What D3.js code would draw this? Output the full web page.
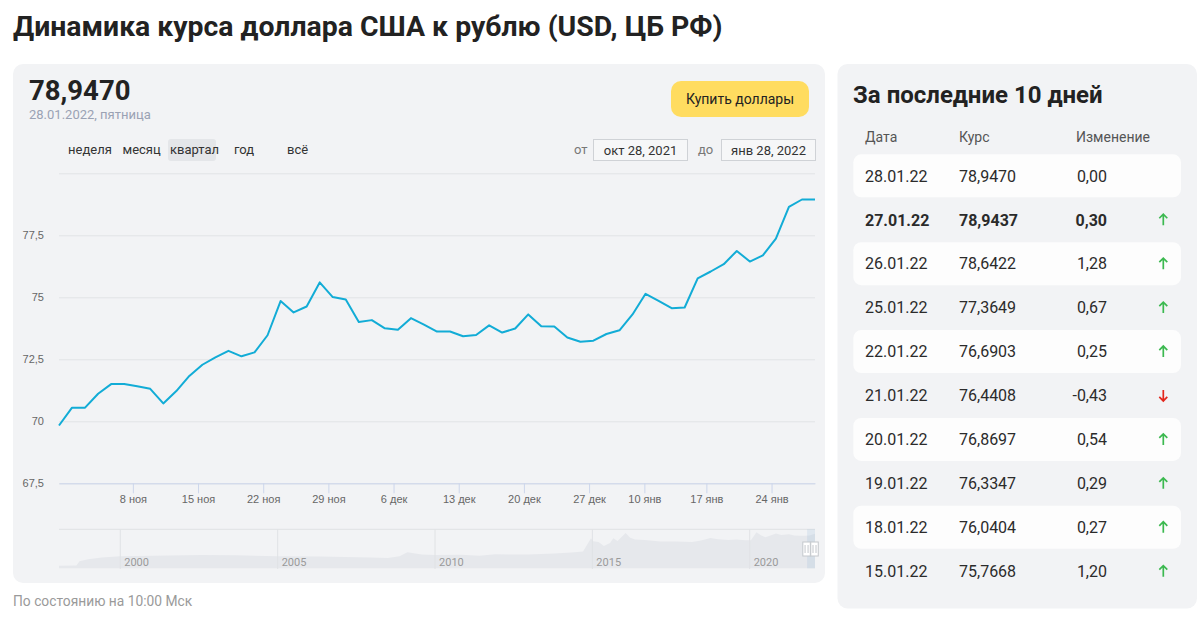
<!DOCTYPE html>
<html>
<head>
<meta charset="utf-8">
<script src="https://cdn.jsdelivr.net/npm/d3@7"></script>
<style>
  body { margin: 0; background: #fff; }
  svg { display: block; font-family: Roboto, "Noto Sans", sans-serif; }
</style>
</head>
<body>
<script>
// main series: CBR USD/RUB, last quarter
let dates = ['2021-10-28', '2021-10-29', '2021-10-30', '2021-11-02', '2021-11-03', '2021-11-06',
  '2021-11-09', '2021-11-10', '2021-11-11', '2021-11-12', '2021-11-13',
  '2021-11-16', '2021-11-17', '2021-11-18', '2021-11-19', '2021-11-20',
  '2021-11-23', '2021-11-24', '2021-11-25', '2021-11-26', '2021-11-27',
  '2021-11-30', '2021-12-01', '2021-12-02', '2021-12-03', '2021-12-04',
  '2021-12-07', '2021-12-08', '2021-12-09', '2021-12-10', '2021-12-11',
  '2021-12-14', '2021-12-15', '2021-12-16', '2021-12-17', '2021-12-18',
  '2021-12-21', '2021-12-22', '2021-12-23', '2021-12-24', '2021-12-25',
  '2021-12-28', '2021-12-29', '2021-12-30', '2021-12-31',
  '2022-01-11', '2022-01-12', '2022-01-13', '2022-01-14', '2022-01-15',
  '2022-01-18', '2022-01-19', '2022-01-20', '2022-01-21', '2022-01-22',
  '2022-01-25', '2022-01-26', '2022-01-27', '2022-01-28']
let rates = [69.83, 70.55, 70.55, 71.11, 71.50, 71.50,
  71.41, 71.31, 70.72, 71.22, 71.83,
  72.28, 72.58, 72.84, 72.62, 72.78,
  73.47, 74.85, 74.39, 74.63, 75.60,
  75.01, 74.91, 74.00, 74.08, 73.75,
  73.69, 74.16, 73.90, 73.62, 73.62,
  73.43, 73.48, 73.87, 73.58, 73.74,
  74.31, 73.83, 73.82, 73.38, 73.21,
  73.25, 73.52, 73.67, 74.31,
  75.14, 74.86, 74.56, 74.59, 75.7668,
  76.0404, 76.3347, 76.8697, 76.4408, 76.6903,
  77.3649, 78.6422, 78.9437, 78.9470]

let yTicks = [67.5, 70, 72.5, 75, 77.5, 80]
let yTickLabels = ['67,5', '70', '72,5', '75', '77,5', '']
let xTickDates = ['2021-11-08', '2021-11-15', '2021-11-22', '2021-11-29', '2021-12-06', '2021-12-13',
  '2021-12-20', '2021-12-27', '2022-01-10', '2022-01-17', '2022-01-24']
let xTickLabels = ['8 ноя', '15 ноя', '22 ноя', '29 ноя', '6 дек', '13 дек',
  '20 дек', '27 дек', '10 янв', '17 янв', '24 янв']

// navigator: whole history
let navDates = ['1998-01-20', '1998-08-10', '1998-09-15', '1998-12-25', '1999-06-01', '2000-01-01',
  '2001-01-15', '2002-08-01', '2003-09-01', '2005-01-01', '2006-05-01', '2007-12-15',
  '2008-07-01', '2008-11-15', '2009-02-15', '2009-08-01', '2010-01-01', '2010-11-01',
  '2011-06-01', '2011-12-01', '2012-12-15', '2013-10-15', '2014-05-01', '2014-09-15',
  '2014-12-16', '2015-01-10', '2015-03-15', '2015-05-15', '2015-07-25', '2015-09-01',
  '2015-10-20', '2016-01-22', '2016-03-15', '2016-05-10', '2016-09-01', '2017-03-01',
  '2017-09-01', '2018-03-01', '2018-06-01', '2018-08-01', '2018-10-01', '2019-01-01',
  '2019-04-28', '2019-08-01', '2019-11-10', '2020-01-15', '2020-03-20', '2020-05-15',
  '2020-07-01', '2020-09-15', '2020-11-01', '2021-01-01', '2021-04-01', '2021-06-01',
  '2021-08-01', '2021-10-01', '2021-11-25', '2022-01-28']
let navValues = [5.9, 6.3, 16, 20.6, 24.5, 27.5,
  28.9, 30.6, 29.5, 27.6, 26.8, 24.4,
  23.3, 27.5, 36.5, 31.5, 30.2, 30.8,
  28.5, 31.8, 31.5, 33.8, 36, 38.5,
  68.5, 62, 60, 51, 58, 68.5,
  62.5, 80.5, 70, 66, 64.5, 61,
  61, 60, 63, 66, 69, 66.5,
  64.5, 65.5, 64, 64, 82, 75,
  71, 76, 79.5, 76, 77.5, 75,
  74.5, 74, 75, 78.9]
let navYears = [2000, 2005, 2010, 2015, 2020]

// table: last 10 days
let tableDates = ['28.01.22', '27.01.22', '26.01.22', '25.01.22', '22.01.22',
  '21.01.22', '20.01.22', '19.01.22', '18.01.22', '15.01.22']
let tableRates = ['78,9470', '78,9437', '78,6422', '77,3649', '76,6903',
  '76,4408', '76,8697', '76,3347', '76,0404', '75,7668']
let tableChanges = [0.00, 0.30, 1.28, 0.67, 0.25, -0.43, 0.54, 0.29, 0.27, 1.20]

let periods = ['неделя', 'месяц', 'квартал', 'год', 'всё']
let periodX = [68, 122.5, 170, 234, 287]

const parse = d3.timeParse('%Y-%m-%d')
const comma = v => v.toFixed(2).replace('.', ',')

const svg = d3.select('body').append('svg').attr('width', 1203).attr('height', 621)

svg.append('text').attr('x', 13).attr('y', 36)
  .attr('font-size', 28.4).attr('font-weight', 700).attr('fill', '#222')
  .text('Динамика курса доллара США к рублю (USD, ЦБ РФ)')

// left panel
svg.append('rect').attr('x', 13).attr('y', 64).attr('width', 812).attr('height', 519)
  .attr('rx', 10).attr('fill', '#f2f3f5')

svg.append('text').attr('x', 29).attr('y', 99.5)
  .attr('font-size', 27.5).attr('font-weight', 700).attr('fill', '#222')
  .text(tableRates[0])
svg.append('text').attr('x', 29).attr('y', 119)
  .attr('font-size', 13).attr('fill', '#9aa2b4')
  .text('28.01.2022, пятница')

svg.append('rect').attr('x', 671).attr('y', 81).attr('width', 138).attr('height', 36)
  .attr('rx', 10).attr('fill', '#ffdc60')
svg.append('text').attr('x', 740).attr('y', 104).attr('text-anchor', 'middle')
  .attr('font-size', 14).attr('fill', '#222').text('Купить доллары')

svg.append('rect').attr('x', 168).attr('y', 139).attr('width', 48).attr('height', 22)
  .attr('rx', 3).attr('fill', '#e4e6e9')
svg.selectAll('.period').data(periods).enter().append('text')
  .attr('class', 'period')
  .attr('x', function (d, i) { return periodX[i] })
  .attr('y', 154)
  .attr('font-size', 13).attr('fill', '#333')
  .text(function (d) { return d })

let rangeBoxes = [{l: 'от', lx: 574, bx: 593.5, t: 'окт 28, 2021'}, {l: 'до', lx: 698, bx: 721.5, t: 'янв 28, 2022'}]
rangeBoxes.forEach(function (b) {
  svg.append('text').attr('x', b.lx).attr('y', 154).attr('font-size', 13).attr('fill', '#777').text(b.l)
  svg.append('rect').attr('x', b.bx).attr('y', 139.5).attr('width', 94).attr('height', 21)
    .attr('fill', '#f6f7f8').attr('stroke', '#cfd2d6')
  svg.append('text').attr('x', b.bx + 47).attr('y', 154.5).attr('text-anchor', 'middle')
    .attr('font-size', 13).attr('fill', '#333').text(b.t)
})

// main chart
const times = dates.map(parse)
const x = d3.scaleLinear().domain([0, dates.length - 1]).range([59, 815])
const y = d3.scaleLinear().domain([67.5, 80]).range([483.3, 173.3])

function dateIndex (t) {
  let i = Math.min(d3.bisectRight(times, t) - 1, times.length - 2)
  return i + (t - times[i]) / (times[i + 1] - times[i])
}

const gy = svg.append('g').attr('transform', 'translate(59,0)')
  .call(d3.axisLeft(y).tickValues(yTicks).tickSize(-756).tickPadding(15)
    .tickFormat(function (d, i) { return yTickLabels[i] }))
gy.select('.domain').remove()
gy.selectAll('line').attr('stroke', '#e1e3e6')
gy.selectAll('text').attr('font-size', 11).attr('fill', '#666').attr('font-family', null)

const gx = svg.append('g').attr('transform', 'translate(0,483.3)')
  .call(d3.axisBottom(x).tickValues(xTickDates.map(function (d) { return dateIndex(parse(d)) }))
    .tickSize(10).tickSizeOuter(0).tickPadding(2)
    .tickFormat(function (d, i) { return xTickLabels[i] }))
gx.select('.domain').attr('stroke', '#ccd6eb')
gx.selectAll('line').attr('stroke', '#ccd6eb')
gx.selectAll('text').attr('font-size', 11).attr('fill', '#666').attr('font-family', null)

svg.append('path').datum(rates)
  .attr('fill', 'none').attr('stroke', '#12acd6').attr('stroke-width', 2)
  .attr('stroke-linejoin', 'round')
  .attr('d', d3.line().x(function (d, i) { return x(i) }).y(function (d) { return y(d) }))

// navigator
const nx = d3.scaleTime().domain([parse('1998-01-20'), parse('2022-01-28')]).range([59, 815])
const ny = d3.scaleLinear().domain([0, 89]).range([568.3, 529.3])
const nav = navDates.map(function (d, i) { return {t: parse(d), v: navValues[i]} })

svg.append('path').datum(nav).attr('fill', '#e6e8ec')
  .attr('d', d3.area().x(function (d) { return nx(d.t) }).y0(568.3).y1(function (d) { return ny(d.v) }))

svg.append('line').attr('x1', 59).attr('x2', 815).attr('y1', 529.3).attr('y2', 529.3)
  .attr('stroke', '#dfe1e4')
svg.selectAll('.navyear').data(navYears).enter().append('line')
  .attr('x1', function (d) { return nx(new Date(d, 0, 1)) })
  .attr('x2', function (d) { return nx(new Date(d, 0, 1)) })
  .attr('y1', 529.3).attr('y2', 569).attr('stroke', '#e0e2e5')
svg.selectAll('.navlabel').data(navYears).enter().append('text')
  .attr('x', function (d) { return nx(new Date(d, 0, 1)) + 4 })
  .attr('y', 565.5).attr('font-size', 11).attr('fill', '#9a9a9a')
  .text(function (d) { return d })

const selX = nx(times[0])
svg.append('rect').attr('x', selX).attr('y', 529.3).attr('width', 815 - selX).attr('height', 39)
  .attr('fill', 'rgba(102,153,204,0.13)')
;[selX, 815].forEach(function (hx) {
  let cx = hx - 0.5
  svg.append('rect').attr('x', cx - 3.75).attr('y', 542).attr('width', 7.5).attr('height', 14)
    .attr('fill', '#fff').attr('stroke', '#c4c7cc')
  ;[-1.5, 1.5].forEach(function (o) {
    svg.append('line').attr('x1', cx + o).attr('x2', cx + o).attr('y1', 545).attr('y2', 553)
      .attr('stroke', '#c4c7cc')
  })
})

svg.append('text').attr('x', 13).attr('y', 606).attr('font-size', 13.8).attr('fill', '#9a9a9a')
  .text('По состоянию на 10:00 Мск')

// right panel
svg.append('rect').attr('x', 837.5).attr('y', 64).attr('width', 359.5).attr('height', 544.5)
  .attr('rx', 10).attr('fill', '#f2f3f5')
svg.append('text').attr('x', 853).attr('y', 102.5)
  .attr('font-size', 24).attr('font-weight', 700).attr('fill', '#222')
  .text('За последние 10 дней')

let colX = [865, 959, 1076]
;['Дата', 'Курс', 'Изменение'].forEach(function (h, i) {
  svg.append('text').attr('x', colX[i]).attr('y', 142).attr('font-size', 14).attr('fill', '#555').text(h)
})

const rowY = d3.scaleLinear().domain([0, 9]).range([175.8, 571.2])
const rows = svg.selectAll('.row').data(tableDates).enter().append('g')
  .attr('class', 'row')
  .attr('transform', function (d, i) { return 'translate(0,' + rowY(i) + ')' })

rows.filter(function (d, i) { return i % 2 === 0 }).append('rect')
  .attr('x', 853.3).attr('y', -21.5).attr('width', 327.7).attr('height', 43)
  .attr('rx', 8).attr('fill', '#fdfdfd')

rows.each(function (d, i) {
  let g = d3.select(this)
  let w = i === 1 ? 700 : 400
  g.append('text').attr('x', colX[0]).attr('y', 5.8).attr('font-size', 16).attr('font-weight', w)
    .attr('fill', '#2b2b2b').text(d)
  g.append('text').attr('x', colX[1]).attr('y', 5.8).attr('font-size', 16).attr('font-weight', w)
    .attr('fill', '#2b2b2b').text(tableRates[i])
  g.append('text').attr('x', 1107).attr('y', 5.8).attr('font-size', 16).attr('font-weight', w)
    .attr('text-anchor', 'end').attr('fill', '#2b2b2b').text(comma(tableChanges[i]))
  let c = tableChanges[i]
  if (c !== 0) {
    let tip = c > 0 ? -5.5 : 5.5
    let wing = tip * 0.27
    g.append('path')
      .attr('d', 'M1163.3,' + (-tip) + 'V' + tip + 'M1159.3,' + wing + 'L1163.3,' + tip + 'L1167.3,' + wing)
      .attr('fill', 'none').attr('stroke', c > 0 ? '#3cb950' : '#e3261c').attr('stroke-width', 1.7)
  }
})
</script>
</body>
</html>
